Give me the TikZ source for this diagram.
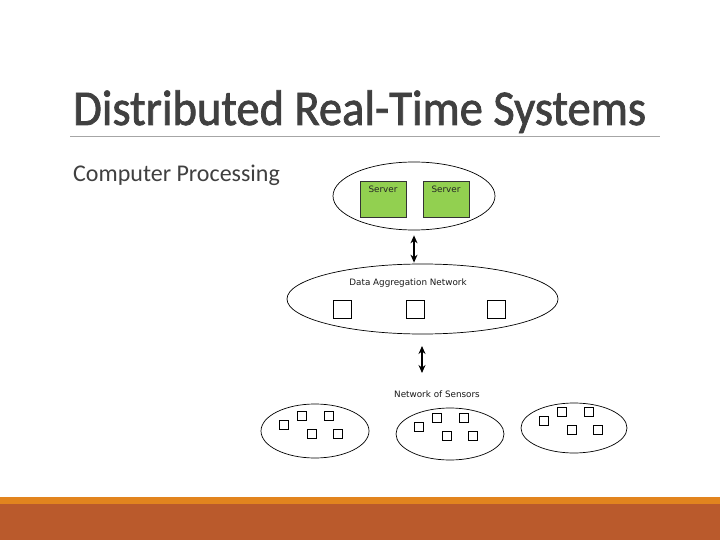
\documentclass[tikz,border=0pt]{standalone}
\usepackage{fontspec}
\setmainfont{Carlito}
\newfontfamily\titlefont{Carlito}[BoldFont=Carlito,BoldFeatures={FakeBold=1.6}]
\newfontfamily\diagfont{DejaVu Sans}
\usetikzlibrary{arrows.meta,positioning,shapes.geometric}
\definecolor{ink}{HTML}{404040}
\definecolor{rulegray}{HTML}{A6A6A6}
\definecolor{servergreen}{HTML}{92D050}
\definecolor{footorange}{HTML}{E2841E}
\definecolor{footrust}{HTML}{BA5A2C}
\tikzset{
  x=1pt,y=-1pt,
  netellipse/.style={ellipse,draw=black,line width=0.7pt,inner sep=0pt},
  server/.style={draw=black!80,fill=servergreen,line width=0.6pt,minimum width=46pt,minimum height=36pt,inner sep=0pt},
  srvtext/.style={font=\diagfont\fontsize{8.8}{10}\selectfont,text=black!85},
  bigsq/.style={draw=black,line width=0.6pt,minimum size=18pt,inner sep=0pt},
  sensor/.style={draw=black,line width=0.6pt,minimum size=9pt,inner sep=0pt},
  netlabel/.style={font=\diagfont\fontsize{8.8}{10}\selectfont,text=black!90},
  dblarrow/.style={{Stealth[length=8pt,width=7pt]}-{Stealth[length=8pt,width=7pt]},line width=2pt,draw=black}
}

\begin{document}
\begin{tikzpicture}
  \useasboundingbox (0,0) rectangle (720,540);
  \fill[white] (0,0) rectangle (720,540);

  % footer bands
  \fill[footorange] (0,497) rectangle (720,504);
  \fill[footrust] (0,504) rectangle (720,540);

  % title and heading
  \node[anchor=base west,inner sep=0pt,text=ink,font=\titlefont\bfseries\fontsize{50}{55}\selectfont,xscale=0.93] (title) at (73,125) {Distributed Real-Time Systems};
  \draw[rulegray,line width=0.8pt] (70,136) -- (660,136);
  \node[anchor=base west,inner sep=0pt,text=ink,font=\fontsize{24}{28}\selectfont] (proc) at (73,182) {Computer Processing};

  % server network
  \node[netellipse,minimum width=162pt,minimum height=68pt] (srvnet) at (414,196) {};
  \node[server,label={[srvtext,anchor=north,yshift=-2pt]north:Server}] (srvA) at (383,199) {};
  \node[server,label={[srvtext,anchor=north,yshift=-2pt]north:Server}] (srvB) at (446,199) {};

  % data aggregation network
  \node[netellipse,minimum width=271pt,minimum height=70pt] (agg) at (422.5,299) {};
  \node[netlabel] (agglbl) at (408,283) {Data Aggregation Network};
  \node[bigsq] (aggA) at (342.5,309.5) {};
  \node[bigsq] (aggB) at (415,309.5) {};
  \node[bigsq] (aggC) at (496,309.5) {};

  \draw[dblarrow,shorten <=5pt,shorten >=1pt] (srvnet.south) -- (srvnet.south |- agg.north);

  % sensor networks
  \node[netlabel] (senslbl) at (437,394) {Network of Sensors};
  \draw[dblarrow] (422,346) coordinate (sensTop) -- (422,373) coordinate (sensBot);

  \node[netellipse,minimum width=108pt,minimum height=54pt] (sensA) at (315,431) {};
  \node[netellipse,minimum width=108pt,minimum height=52pt] (sensB) at (450,434) {};
  \node[netellipse,minimum width=106pt,minimum height=50pt] (sensC) at (574,428) {};

  \foreach \name/\cx/\cy in {sensA/0/0,sensB/135/2,sensC/260/-4}{
    \node[sensor] (\name-1) at (283.5+\cx,424.5+\cy) {};
    \node[sensor] (\name-2) at (302+\cx,415.5+\cy) {};
    \node[sensor] (\name-3) at (328.5+\cx,415.5+\cy) {};
    \node[sensor] (\name-4) at (311.5+\cx,433.5+\cy) {};
    \node[sensor] (\name-5) at (337.5+\cx,433.5+\cy) {};
  }
\end{tikzpicture}
\end{document}
